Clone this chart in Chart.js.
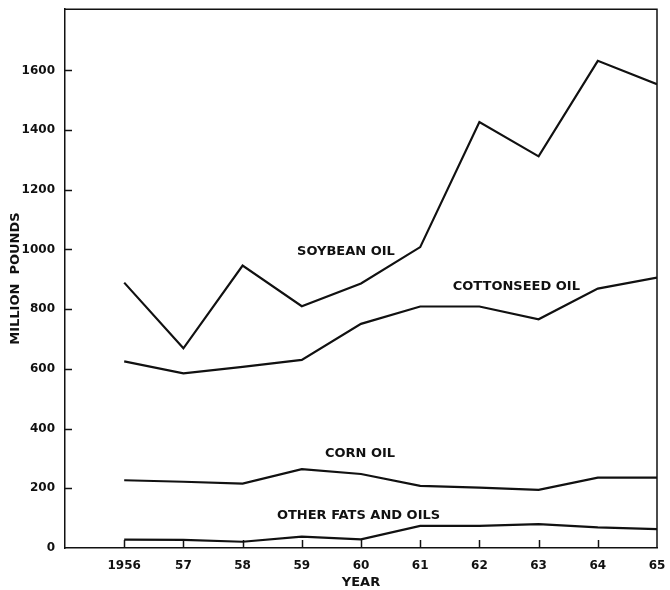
<!DOCTYPE html>
<html>
<head>
<meta charset="utf-8">
<script src="https://cdn.jsdelivr.net/npm/chart.js@4/dist/chart.umd.min.js"></script>
<style>
  html, body { margin: 0; padding: 0; background: #fff; }
  #wrap { width: 670px; height: 590px; }
</style>
</head>
<body>
<div id="wrap"><canvas id="myChart" width="670" height="590"></canvas></div>
<script>
// data (million pounds)
var years = [1956, 1957, 1958, 1959, 1960, 1961, 1962, 1963, 1964, 1965];
var yearLabels = ['1956', '57', '58', '59', '60', '61', '62', '63', '64', '65'];
var soybean = [889, 669, 946, 810, 886, 1008, 1427, 1312, 1632, 1554];
var cottonseed = [625, 585, 607, 630, 751, 809, 809, 766, 869, 906];
var corn = [227, 222, 216, 264, 248, 208, 202, 195, 236, 236];
var other = [28, 27, 21, 38, 29, 74, 74, 80, 69, 63];
var yTicks = [0, 200, 400, 600, 800, 1000, 1200, 1400, 1600];

function points(vals) {
    return vals.map(function (v, i) { return {x: years[i], y: v}; });
}

function series(label, vals) {
    return {
        label: label,
        data: points(vals),
        borderColor: '#111',
        borderWidth: 2.2,
        pointRadius: 0,
        fill: false,
        tension: 0
    };
}

// frame, inward tick marks and line names
var decor = {
    id: 'decor',
    afterDraw: function (chart) {
        var ctx = chart.ctx;
        var a = chart.chartArea;
        var xs = chart.scales.x, ys = chart.scales.y;
        ctx.save();
        ctx.strokeStyle = '#111';
        ctx.lineWidth = 1.5;
        ctx.beginPath();
        ctx.moveTo(a.left, a.top);
        ctx.lineTo(a.right, a.top);
        ctx.lineTo(a.right, a.bottom);
        ctx.stroke();
        ctx.lineWidth = 1.5;
        yTicks.forEach(function (v) {
            if (v === 0) return;
            var py = Math.round(ys.getPixelForValue(v)) + 0.5;
            ctx.beginPath();
            ctx.moveTo(a.left - 1, py);
            ctx.lineTo(a.left + 7, py);
            ctx.stroke();
        });
        years.forEach(function (v, i) {
            if (i === years.length - 1) return;
            var px = Math.round(xs.getPixelForValue(v)) + 0.5;
            ctx.beginPath();
            ctx.moveTo(px, a.bottom);
            ctx.lineTo(px, a.bottom - 8);
            ctx.stroke();
        });
        ctx.fillStyle = '#111';
        ctx.font = 'bold 13px "DejaVu Sans"';
        ctx.textAlign = 'left';
        ctx.textBaseline = 'middle';
        [
            ['SOYBEAN OIL', 1958.92, 992],
            ['COTTONSEED OIL', 1961.55, 874],
            ['CORN OIL', 1959.39, 315],
            ['OTHER FATS AND OILS', 1958.58, 107]
        ].forEach(function (t) {
            ctx.fillText(t[0], xs.getPixelForValue(t[1]), ys.getPixelForValue(t[2]));
        });
        ctx.restore();
    }
};

var config = {
    type: 'line',
    data: {
        datasets: [
            series('Soybean oil', soybean),
            series('Cottonseed oil', cottonseed),
            series('Corn oil', corn),
            series('Other fats and oils', other)
        ]
    },
    options: {
        responsive: false,
        animation: false,
        layout: {padding: {left: 0, right: 13, top: 9, bottom: 0}},
        plugins: {legend: {display: false}, tooltip: {enabled: false}},
        scales: {
            x: {
                type: 'linear',
                min: 1955,
                max: 1965,
                afterBuildTicks: function (s) {
                    s.ticks = years.map(function (v) { return {value: v}; });
                },
                afterFit: function (s) { s.height = 42; },
                grid: {display: false},
                border: {display: true, color: '#111', width: 1.5},
                ticks: {
                    color: '#111',
                    padding: 3,
                    maxRotation: 0,
                    font: {family: 'DejaVu Sans', size: 12, weight: 'bold'},
                    callback: function (v) {
                        var i = years.indexOf(v);
                        return i < 0 ? '' : yearLabels[i];
                    }
                },
                title: {
                    display: true,
                    text: 'YEAR',
                    color: '#111',
                    padding: {top: 0, bottom: 0},
                    font: {family: 'DejaVu Sans', size: 13, weight: 'bold'}
                }
            },
            y: {
                min: 0,
                max: 1805,
                afterBuildTicks: function (s) {
                    s.ticks = yTicks.map(function (v) { return {value: v}; });
                },
                afterFit: function (s) { s.width = 65; },
                grid: {display: false},
                border: {display: true, color: '#111', width: 1.5},
                ticks: {
                    color: '#111',
                    padding: 2,
                    font: {family: 'DejaVu Sans', size: 12, weight: 'bold'},
                    callback: function (v) { return String(v); }
                },
                title: {
                    display: true,
                    text: 'MILLION  POUNDS',
                    color: '#111',
                    padding: {top: 8, bottom: 0},
                    font: {family: 'DejaVu Sans', size: 13, weight: 'bold'}
                }
            }
        }
    },
    plugins: [decor]
};

var myChart = new Chart(document.getElementById('myChart'), config);
</script>
</body>
</html>
